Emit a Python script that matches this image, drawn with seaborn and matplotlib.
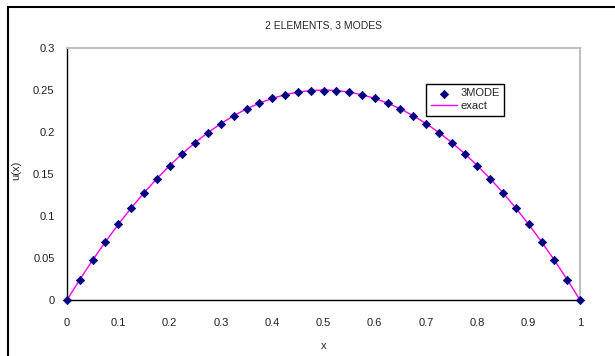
import matplotlib
matplotlib.use("Agg")
import matplotlib.pyplot as plt
import matplotlib.ticker as ticker
from matplotlib.patches import Rectangle
import seaborn as sns
import pandas as pd

# node positions along the element pair
x_nodes = [0.0, 0.025, 0.05, 0.075, 0.1, 0.125, 0.15, 0.175, 0.2, 0.225,
           0.25, 0.275, 0.3, 0.325, 0.35, 0.375, 0.4, 0.425, 0.45, 0.475,
           0.5, 0.525, 0.55, 0.575, 0.6, 0.625, 0.65, 0.675, 0.7, 0.725,
           0.75, 0.775, 0.8, 0.825, 0.85, 0.875, 0.9, 0.925, 0.95, 0.975, 1.0]

# 3-mode approximation
u_3mode = [0.0, 0.0244, 0.0475, 0.0694, 0.09, 0.1094, 0.1275, 0.1444, 0.16, 0.1744,
           0.1875, 0.1994, 0.21, 0.2194, 0.2275, 0.2344, 0.24, 0.2444, 0.2475, 0.2485,
           0.2488, 0.2485, 0.2475, 0.2444, 0.24, 0.2344, 0.2275, 0.2194, 0.21, 0.1994,
           0.1875, 0.1744, 0.16, 0.1444, 0.1275, 0.1094, 0.09, 0.0694, 0.0475, 0.0244, 0.0]

# exact solution
u_exact = [0.0, 0.024375, 0.0475, 0.069375, 0.09, 0.109375, 0.1275, 0.144375, 0.16, 0.174375,
           0.1875, 0.199375, 0.21, 0.219375, 0.2275, 0.234375, 0.24, 0.244375, 0.2475, 0.249375,
           0.25, 0.249375, 0.2475, 0.244375, 0.24, 0.234375, 0.2275, 0.219375, 0.21, 0.199375,
           0.1875, 0.174375, 0.16, 0.144375, 0.1275, 0.109375, 0.09, 0.069375, 0.0475, 0.024375, 0.0]

sns.set_style("white")
plt.rcParams['font.family'] = ['Liberation Sans', 'DejaVu Sans']
plt.rcParams['font.size'] = 8

df = pd.DataFrame({'x': x_nodes, '3MODE': u_3mode, 'exact': u_exact})

fig = plt.figure(figsize=(6.15, 3.56), dpi=100)
ax = fig.add_axes([67 / 615, 1 - 300 / 356, (580 - 67) / 615, (300 - 48) / 356])

sns.lineplot(data=df, x='x', y='exact', ax=ax, color='#ff00ff', linewidth=1,
             label='exact', zorder=2)
sns.scatterplot(data=df, x='x', y='3MODE', ax=ax, color='#000080', marker='D',
                s=18, edgecolor='#000080', linewidth=0.5, label='3MODE', zorder=3,
                clip_on=False)

ax.set_xlim(0, 1)
ax.set_ylim(0, 0.3)
ax.xaxis.set_major_locator(ticker.MultipleLocator(0.1))
ax.yaxis.set_major_locator(ticker.MultipleLocator(0.05))
ax.xaxis.set_major_formatter(ticker.FuncFormatter(lambda v, pos: f'{v:g}'))
ax.yaxis.set_major_formatter(ticker.FuncFormatter(lambda v, pos: f'{v:g}'))
ax.tick_params(direction='in', length=4, width=1, colors='black', labelsize=8,
               labelcolor='#222222')
ax.tick_params(axis='x', pad=13)
ax.tick_params(axis='y', pad=9)
ax.set_xlabel('x', fontsize=8)
ax.set_ylabel('u(x)', fontsize=8)
ax.xaxis.set_label_coords(0.5, -0.162)
ax.yaxis.set_label_coords(-0.09, 0.516)

for side in ['left', 'bottom']:
    ax.spines[side].set_color('black')
    ax.spines[side].set_linewidth(1)
for side in ['top', 'right']:
    ax.spines[side].set_color('#c0c0c0')
    ax.spines[side].set_linewidth(1.5)

ax.set_title('2 ELEMENTS, 3 MODES', fontsize=7.5, pad=14)

handles, labels = ax.get_legend_handles_labels()
order = [labels.index('3MODE'), labels.index('exact')]
leg = ax.legend([handles[i] for i in order], [labels[i] for i in order],
                loc='upper left', bbox_to_anchor=(0.70, 0.857), borderaxespad=0,
                fontsize=8, frameon=True, fancybox=False, framealpha=1,
                edgecolor='black', borderpad=0.4, handlelength=2.4,
                labelspacing=0.25, handletextpad=0.3)
leg.get_frame().set_linewidth(1)

# outer chart border (left and top edges visible)
fig.patches.append(Rectangle((8 / 615, -0.2), 1.2, 0.2 + 1 - 7 / 356,
                             transform=fig.transFigure, fill=False,
                             edgecolor='black', linewidth=1.5))

fig.savefig('out.png', dpi=100)
